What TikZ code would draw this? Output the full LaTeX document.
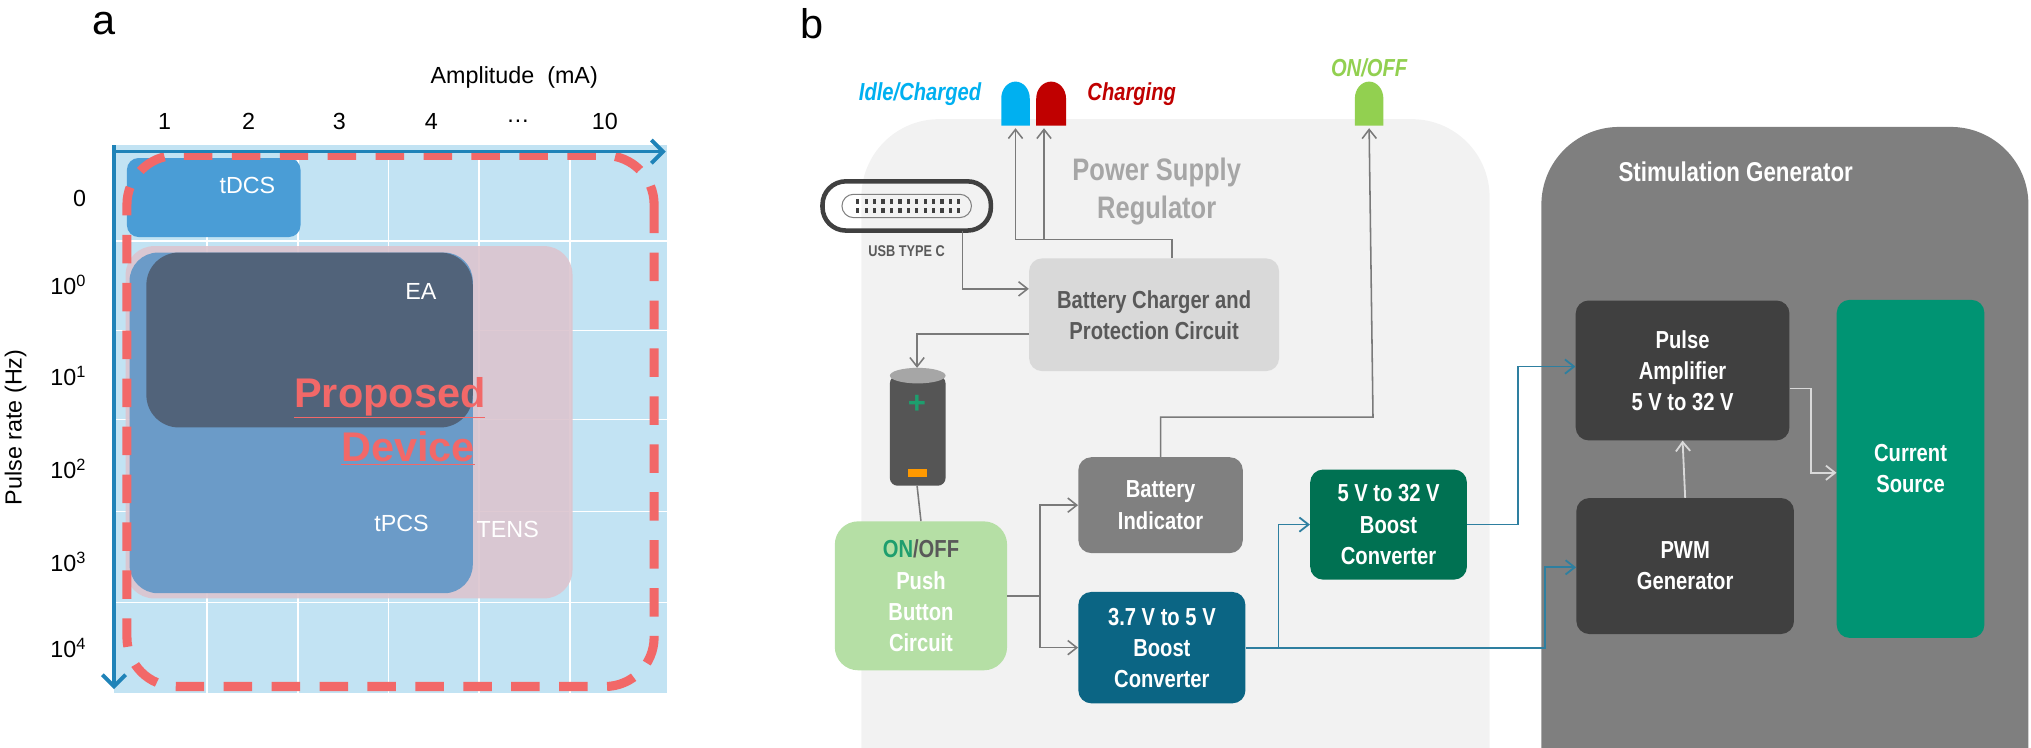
\documentclass[tikz,border=0pt]{standalone}
\usepackage{fontspec}
\setmainfont{Liberation Sans}
\newfontfamily\narrow[FakeStretch=0.82]{Liberation Sans}
\usetikzlibrary{arrows.meta}
\definecolor{chartbg}{HTML}{C2E3F3}
\definecolor{axisblue}{HTML}{1F83B8}
\definecolor{tdcs}{HTML}{4A9DD6}
\definecolor{tens}{HTML}{DCC5CF}
\definecolor{tpcs}{HTML}{6B9BC8}
\definecolor{ea}{HTML}{51637A}
\definecolor{propred}{HTML}{F26868}
\definecolor{psbg}{HTML}{F2F2F2}
\definecolor{sgbg}{HTML}{7F7F7F}
\definecolor{darkbox}{HTML}{404040}
\definecolor{curgreen}{HTML}{009473}
\definecolor{chargerbox}{HTML}{D9D9D9}
\definecolor{txtgray}{HTML}{595959}
\definecolor{psgray}{HTML}{A6A6A6}
\definecolor{idleblue}{HTML}{00B0F0}
\definecolor{chargred}{HTML}{C00000}
\definecolor{ledgreen}{HTML}{92D050}
\definecolor{pushgreen}{HTML}{B5DFA5}
\definecolor{ongreen}{HTML}{1E9E6E}
\definecolor{indgray}{HTML}{808080}
\definecolor{conv37}{HTML}{0B6584}
\definecolor{conv32}{HTML}{007152}
\definecolor{linkblue}{HTML}{2E7FA0}
\definecolor{linkgray}{HTML}{7A7A7A}
\definecolor{batt}{HTML}{555555}
\tikzset{
 blk/.style={rounded corners=10pt, inner sep=0pt, align=center, font=\narrow\bfseries\fontsize{19}{24}\selectfont, text=white},
 gl/.style={draw=linkgray, line width=1.2pt},
 ga/.style={gl, -{Straight Barb[length=7pt,width=11pt]}},
 bl/.style={draw=linkblue, line width=1.4pt},
 ba/.style={bl, -{Straight Barb[length=7pt,width=11pt]}},
 la/.style={draw=chargerbox, line width=1.4pt, -{Straight Barb[length=7pt,width=11pt]}},
 axl/.style={font=\fontsize{18}{18}\selectfont},
 ledl/.style={font=\narrow\bfseries\itshape\fontsize{19}{19}\selectfont},
}
\begin{document}
\begin{tikzpicture}[x=1pt,y=-1pt]
\useasboundingbox (0,0) rectangle (1568,577);
% ---------- panel a ----------
\node[font=\fontsize{32}{32}\selectfont] (la) at (80,18) {a};
\fill[chartbg] (88,112) rectangle (515,535);
\foreach \x in {160,230,300,370,440} \draw[white,line width=1.2pt] (\x,117) -- (\x,535);
\foreach \y in {186,255,324,395,465} \draw[white,line width=1.2pt] (88,\y) -- (515,\y);
\fill[tdcs,rounded corners=9pt] (98,122) rectangle (232,183);
\node[text=white,axl] (tdcs) at (191,143) {tDCS};
\fill[tens,opacity=0.9,rounded corners=22pt] (97,190) rectangle (442,462);
\fill[tpcs,rounded corners=22pt] (100,195) rectangle (365,458);
\fill[ea,rounded corners=25pt] (113,195) rectangle (365,330);
\node[text=white,axl] (ea) at (325,225) {EA};
\node[text=white,axl] (tpcs) at (310,404) {tPCS};
\node[text=white,axl] (tens) at (392,409) {TENS};
\node[text=propred,font=\bfseries\fontsize{32}{32}\selectfont] (p1) at (301,307) {\underline{Proposed}};
\node[text=propred,font=\bfseries\fontsize{32}{32}\selectfont] (p2) at (315,346) {\underline{Device}};
\draw[propred,line width=7pt,dash pattern=on 22pt off 15pt,rounded corners=38pt] (505,120) rectangle (98,530);
\draw[axisblue,line width=3pt,-{Straight Barb[length=9pt,width=18pt]}] (88,117) -- (514,117);
\draw[axisblue,line width=3pt,-{Straight Barb[length=9pt,width=18pt]}] (88,112) -- (88,532);
\node[axl] (amp) at (397,60) {Amplitude \ (mA)};
\foreach \x/\t in {127/1,192/2,262/3,333/4,400/\dots,467/10} \node[axl] at (\x,94) {\t};
\foreach \y/\t in {153/0,220/10\textsuperscript{0},290/10\textsuperscript{1},362/10\textsuperscript{2},434/10\textsuperscript{3},500/10\textsuperscript{4}} \node[axl,anchor=east] at (70,\y) {\t};
\node[axl,rotate=90] (pr) at (12,330) {Pulse rate (Hz)};
% ---------- panel b ----------
\node[font=\fontsize{32}{32}\selectfont] (lb) at (627,18) {b};
\fill[psbg,rounded corners=60pt] (665,92) rectangle (1150,740);
\fill[sgbg,rounded corners=60pt] (1190,98) rectangle (1566,760);
\node[text=white,font=\narrow\bfseries\fontsize{21}{21}\selectfont] (sgt) at (1340,133) {Stimulation Generator};
\node[text=psgray,align=center,font=\narrow\bfseries\fontsize{24}{29}\selectfont] (pst) at (893,148) {Power Supply\\Regulator};
% blocks
\node[blk,fill=darkbox,minimum width=165pt,minimum height=108pt] (pa) at (1299,286) {Pulse\\Amplifier\\5 V to 32 V};
\node[blk,fill=darkbox,minimum width=168pt,minimum height=105pt] (pwm) at (1301,437) {PWM\\Generator};
\node[blk,fill=curgreen,minimum width=114pt,minimum height=261pt] (cs) at (1475,362) {Current\\Source};
\node[blk,fill=chargerbox,text=txtgray,minimum width=193pt,minimum height=87pt] (chg) at (891,243) {Battery Charger and\\Protection Circuit};
\node[blk,fill=indgray,minimum width=127pt,minimum height=74pt] (ind) at (896,390) {Battery\\Indicator};
\node[blk,fill=conv37,minimum width=129pt,minimum height=86pt] (c37) at (897,500) {3.7 V to 5 V\\Boost\\Converter};
\node[blk,fill=conv32,minimum width=121pt,minimum height=85pt] (c32) at (1072,405) {5 V to 32 V\\Boost\\Converter};
\node[blk,fill=pushgreen,minimum width=133pt,minimum height=115pt,rounded corners=18pt] (push) at (711,460) {{\color{ongreen}ON}{\color{txtgray}/OFF}\\Push\\Button\\Circuit};
% battery
\fill[batt,rounded corners=6pt] (687,290) rectangle (730,375);
\fill[gray!70] (708.5,290) ellipse (21.5pt and 6pt);
\node[text=ongreen,font=\bfseries\fontsize{24}{24}\selectfont] (plus) at (708,312) {+};
\fill[orange!80!yellow] (701,362) rectangle (716,368);
\coordinate (btop) at (708,284);
\coordinate (bbot) at (708,375);
% USB
\draw[darkbox,line width=3.5pt,rounded corners=18pt] (635,140) rectangle (765,178);
\draw[gray,line width=0.8pt,rounded corners=9pt] (650,150) rectangle (750,168);
\foreach \i in {0,...,12} {\fill[darkbox] (661+\i*6.5,153.5) rectangle (663.5+\i*6.5,157.5); \fill[darkbox] (661+\i*6.5,160.5) rectangle (663.5+\i*6.5,164.5);}
\node[text=txtgray,font=\narrow\bfseries\fontsize{12}{12}\selectfont] (usbl) at (700,194) {USB TYPE C};
\coordinate (usb) at (743,178);
% LEDs
\fill[idleblue] (773,97) -- (773,76) arc (180:0:11pt and 13pt) -- (795,97) -- cycle;
\fill[chargred] (800,97) -- (800,76) arc (180:0:11.5pt and 13pt) -- (823,97) -- cycle;
\fill[ledgreen] (1046,97) -- (1046,76) arc (180:0:11pt and 13pt) -- (1068,97) -- cycle;
\coordinate (ledb) at (784,99);
\coordinate (ledr) at (811,99);
\coordinate (ledg) at (1057,99);
\node[ledl,text=idleblue,anchor=east] (idl) at (761,73) {Idle/Charged};
\node[ledl,text=chargred,anchor=west] (chl) at (836,73) {Charging};
\node[ledl,text=ledgreen] (onl) at (1057,52) {ON/OFF};
% connectors gray
\draw[ga] (chg.north -| 905,0) |- (784,185) -- (ledb);
\draw[ga] (806,185) -- (806,99);
\draw[ga] (usb) |- (chg.west |- 0,223);
\draw[ga] (chg.west |- 0,258) -| (btop);
\draw[gl] (bbot) -- (push.north);
\draw[ga] (push.east) -- (803,460) |- (ind.west);
\draw[ga] (803,460) |- (c37.west);
\draw[ga] (ind.north) |- (1060,322) -- (ledg);
% connectors blue
\draw[ba] (c37.east) -- (987,500) |- (c32.west);
\draw[ba] (987,500) -- (1193,500) |- (pwm.west |- 0,438);
\draw[ba] (c32.east) -- (1172,405) |- (pa.west |- 0,283);
% connectors light
\draw[la] (pwm.north) -- (pa.south);
\draw[la] (pa.east |- 0,300) -- (1398,300) |- (cs.west |- 0,365);
\end{tikzpicture}
\end{document}
